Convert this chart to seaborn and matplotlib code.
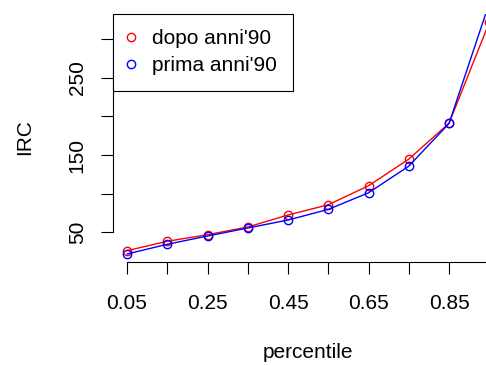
import matplotlib
matplotlib.use("Agg")
import matplotlib.pyplot as plt
import seaborn as sns
import pandas as pd
from matplotlib.lines import Line2D

percentile = [0.05, 0.15, 0.25, 0.35, 0.45, 0.55, 0.65, 0.75, 0.85, 0.95]
dopo = [26.2, 38.4, 46.9, 56.9, 72.4, 85.7, 110.3, 144.8, 191.3, 322]
prima = [21.9, 34.5, 45.2, 55.6, 65.9, 79.7, 101.2, 135.7, 191.0, 347]
series_names = ["dopo anni'90", "prima anni'90"]
colors = ["#FF0000", "#0000FF"]
xtick_vals = [0.05, 0.15, 0.25, 0.35, 0.45, 0.55, 0.65, 0.75, 0.85, 0.95]
xtick_labels = ["0.05", "", "0.25", "", "0.45", "", "0.65", "", "0.85", ""]
ytick_vals = [50, 100, 150, 200, 250, 300]
ytick_labels = ["50", "", "150", "", "250", ""]

df = pd.DataFrame({
    "percentile": percentile * 2,
    "IRC": dopo + prima,
    "serie": [series_names[0]] * len(dopo) + [series_names[1]] * len(prima),
})

sns.set_style("white")
plt.rcParams["font.family"] = ["Liberation Sans", "DejaVu Sans"]
plt.rcParams["text.color"] = "black"
plt.rcParams["axes.labelcolor"] = "black"

FS = 15

fig = plt.figure(figsize=(4.86, 3.65), dpi=100)
ax = fig.add_axes([112.5 / 486, (365 - 261.5) / 365, 391.3 / 486, 248 / 365])

sns.lineplot(data=df, x="percentile", y="IRC", hue="serie", hue_order=series_names,
             palette=colors, marker="o", markersize=6, markerfacecolor="none",
             markeredgewidth=1.0, linewidth=1.0, ax=ax, legend=False)
for ln, c in zip(ax.lines, colors):
    ln.set_markeredgecolor(c)

ax.set_xlim(0.014, 0.986)
ax.set_ylim(12.2, 333.4)

ax.set_xticks(xtick_vals)
ax.set_xticklabels(xtick_labels)
ax.set_yticks(ytick_vals)
ax.set_yticklabels(ytick_labels, rotation=90, va="center")

ax.tick_params(axis="both", direction="out", length=8.6, width=0.8, color="black",
               labelsize=FS, labelcolor="black")
ax.tick_params(axis="x", pad=15)
ax.tick_params(axis="y", pad=10)
ax.tick_params(bottom=True, left=True)

for s in ["top", "right"]:
    ax.spines[s].set_visible(False)
for s in ["left", "bottom"]:
    ax.spines[s].set_color("black")
    ax.spines[s].set_linewidth(0.8)
ax.spines["left"].set_bounds(50, 300)
ax.spines["bottom"].set_bounds(0.05, 0.95)

ax.set_xlabel("percentile", fontsize=FS, color="black")
ax.xaxis.set_label_coords(0.5, -(353 - 261.5) / 248)
ax.xaxis.label.set_va("center")
ax.set_ylabel("IRC", fontsize=FS, color="black")
ax.yaxis.set_label_coords((25 - 112.5) / 391.3, 0.5)
ax.yaxis.label.set_va("center")
ax.yaxis.label.set_ha("center")

handles = [Line2D([], [], linestyle="none", marker="o", markersize=6,
                  markerfacecolor="none", markeredgecolor=c, markeredgewidth=1.0)
           for c in colors]
leg = ax.legend(handles, series_names, loc="upper left", bbox_to_anchor=(0, 1),
                borderaxespad=0, fontsize=FS, frameon=True, fancybox=False,
                edgecolor="black", framealpha=1, borderpad=0.75,
                handlelength=0.3, handletextpad=0.85, labelspacing=0.4)
leg.get_frame().set_linewidth(0.8)

fig.savefig("out.png", dpi=100)
